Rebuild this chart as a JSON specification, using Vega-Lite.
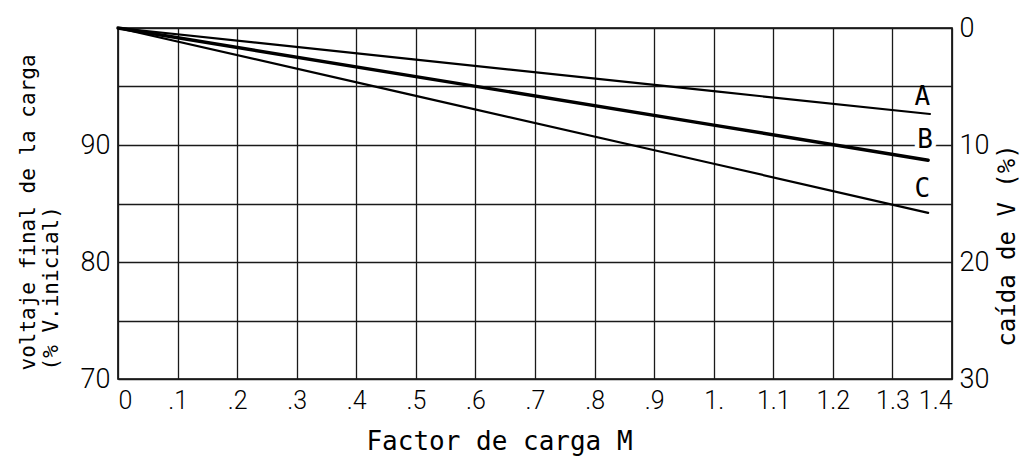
{
  "$schema": "https://vega.github.io/schema/vega-lite/v6.json",
  "width": 834,
  "height": 351,
  "autosize": {"type": "none"},
  "padding": {"left": 118, "top": 28, "right": 76, "bottom": 78},
  "background": "white",
  "config": {
    "view": {"stroke": "black", "strokeWidth": 1.6},
    "axis": {"labelColor": "black", "titleColor": "black", "titleFontWeight": "normal"}
  },
  "datasets": {
    "lines": [
      {"serie": "A", "M": 0, "V": 100}, {"serie": "A", "M": 0.5, "V": 97.3}, {"serie": "A", "M": 1.0, "V": 94.6}, {"serie": "A", "M": 1.363, "V": 92.65},
      {"serie": "B", "M": 0, "V": 100}, {"serie": "B", "M": 0.5, "V": 95.85}, {"serie": "B", "M": 1.0, "V": 91.7}, {"serie": "B", "M": 1.36, "V": 88.7},
      {"serie": "C", "M": 0, "V": 100}, {"serie": "C", "M": 0.5, "V": 94.2}, {"serie": "C", "M": 1.0, "V": 88.4}, {"serie": "C", "M": 1.36, "V": 84.2}
    ],
    "labels": [
      {"serie": "A", "M": 1.35, "V": 94.1},
      {"serie": "B", "M": 1.355, "V": 90.4},
      {"serie": "C", "M": 1.35, "V": 86.2}
    ],
    "caida": [{"caida": 0}, {"caida": 30}]
  },
  "layer": [
    {
      "layer": [
        {
          "data": {"name": "lines"},
          "mark": {"type": "line", "color": "black", "strokeCap": "round"},
          "encoding": {
            "x": {
              "field": "M", "type": "quantitative",
              "scale": {"domain": [0, 1.4], "nice": false, "zero": false},
              "axis": {
                "values": [0, 0.1, 0.2, 0.3, 0.4, 0.5, 0.6, 0.7, 0.8, 0.9, 1.0, 1.1, 1.2, 1.3, 1.4],
                "labelExpr": "datum.value == 0 ? '0' : (abs(datum.value - 1) < 0.001 ? '1.' : (datum.value < 1 ? replace(format(datum.value, '.1f'), '0.', '.') : format(datum.value, '.1f')))",
                "grid": true, "gridColor": "#1a1a1a", "gridWidth": 1.3,
                "ticks": false, "domain": false,
                "labelFont": "Roboto", "labelFontWeight": 300, "labelFontSize": 25, "labelPadding": 9,
                "labelOverlap": false,
                "title": "Factor de carga M",
                "titleFont": "DejaVu Sans Mono", "titleFontSize": 26,
                "titleX": 381, "titleY": 62, "titleBaseline": "middle", "titleAlign": "center"
              }
            },
            "y": {
              "field": "V", "type": "quantitative",
              "scale": {"domain": [70, 100], "nice": false, "zero": false},
              "axis": {
                "values": [70, 75, 80, 85, 90, 95, 100],
                "labelExpr": "(datum.value % 10 == 0 && datum.value < 100) ? datum.label : ''",
                "grid": true, "gridColor": "#1a1a1a", "gridWidth": 1.3,
                "ticks": false, "domain": false,
                "labelFont": "Roboto", "labelFontWeight": 300, "labelFontSize": 27, "labelPadding": 8,
                "title": ["voltaje  final de la carga", "(% V.inicial)"],
                "titleFont": "DejaVu Sans Mono", "titleFontSize": 21, "titleLineHeight": 23,
                "titleAngle": -90, "titleAlign": "left", "titleBaseline": "top",
                "titleX": -101, "titleY": 342
              }
            },
            "detail": {"field": "serie"},
            "strokeWidth": {
              "field": "serie", "type": "nominal",
              "scale": {"type": "ordinal", "domain": ["A", "B", "C"], "range": [2.2, 3.4, 2.2]},
              "legend": null
            }
          }
        },
        {
          "data": {"name": "labels"},
          "transform": [{"filter": "datum.serie == 'B'"}],
          "mark": {"type": "text", "font": "DejaVu Sans Mono", "fontSize": 26, "stroke": "white", "strokeWidth": 9, "fill": "white"},
          "encoding": {
            "x": {"field": "M", "type": "quantitative"},
            "y": {"field": "V", "type": "quantitative"},
            "text": {"field": "serie"}
          }
        },
        {
          "data": {"name": "labels"},
          "mark": {"type": "text", "font": "DejaVu Sans Mono", "fontSize": 26, "color": "black"},
          "encoding": {
            "x": {"field": "M", "type": "quantitative"},
            "y": {"field": "V", "type": "quantitative"},
            "text": {"field": "serie"}
          }
        }
      ]
    },
    {
      "data": {"name": "caida"},
      "mark": {"type": "point", "opacity": 0},
      "encoding": {
        "y": {
          "field": "caida", "type": "quantitative",
          "scale": {"domain": [0, 30], "reverse": true, "nice": false, "zero": false},
          "axis": {
            "orient": "right",
            "values": [0, 10, 20, 30],
            "grid": false, "ticks": false, "domain": false,
            "labelFont": "Roboto", "labelFontWeight": 300, "labelFontSize": 27, "labelPadding": 7,
            "title": "caída de V (%)",
            "titleFont": "DejaVu Sans Mono", "titleFontSize": 24,
            "titleAngle": -90, "titleAlign": "center", "titleBaseline": "middle",
            "titleX": 55, "titleY": 217
          }
        }
      }
    }
  ],
  "resolve": {"scale": {"y": "independent"}}
}
